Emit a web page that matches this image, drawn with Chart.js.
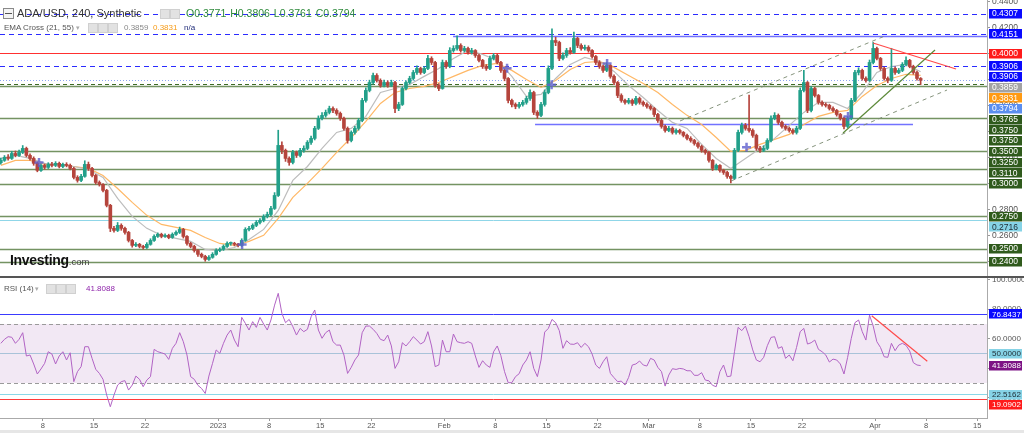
<!DOCTYPE html>
<html>
<head>
<meta charset="utf-8">
<script src="https://cdn.jsdelivr.net/npm/chart.js@4.4.1/dist/chart.umd.min.js"></script>
<style>
html,body{margin:0;padding:0;background:#fff;}
body{width:1024px;height:433px;position:relative;overflow:hidden;font-family:"Liberation Sans",Arial,sans-serif;}
canvas{position:absolute;left:0;}
#price{top:0;}
#rsi{top:277px;}
.t{position:absolute;white-space:nowrap;}
.ic{position:absolute;width:8px;height:8px;background:#e2e2e2;border:1px solid #d0d0d0;}
</style>
</head>
<body>
<canvas id="price" width="1024" height="277"></canvas>
<canvas id="rsi" width="1024" height="156"></canvas>

<div class="t" style="left:3px;top:8px;width:9px;height:9px;border:1px solid #8a8a8a;background:#f4f4f4"></div>
<div class="t" style="left:5px;top:13px;width:7px;height:1px;background:#555"></div>
<div class="t" style="left:17px;top:6px;font-size:11px;line-height:14px;color:#333">ADA/USD, 240, Synthetic</div>
<div class="ic" style="left:160px;top:9px"></div>
<div class="ic" style="left:170px;top:9px"></div>
<div class="t" style="left:186px;top:6px;font-size:10.5px;line-height:14px;color:#2f8a3c;word-spacing:1px">O0.3771 H0.3806 L0.3761 C0.3794</div>

<div class="t" style="left:4px;top:22px;font-size:8px;line-height:11px;color:#555">EMA Cross (21, 55)</div>
<div class="t" style="left:76px;top:22px;font-size:7px;line-height:11px;color:#aaa">&#9662;</div>
<div class="ic" style="left:88px;top:23px"></div>
<div class="ic" style="left:98px;top:23px"></div>
<div class="ic" style="left:108px;top:23px"></div>
<div class="t" style="left:124px;top:22px;font-size:8px;line-height:11px;color:#888">0.3859</div>
<div class="t" style="left:153px;top:22px;font-size:8px;line-height:11px;color:#f59a16">0.3831</div>
<div class="t" style="left:184px;top:22px;font-size:8px;line-height:11px;color:#1e2a78">n/a</div>

<div class="t" style="left:10px;top:251px;font-size:14px;line-height:18px;font-weight:bold;color:#111;letter-spacing:-0.3px">Investing<span style="font-size:9.5px;font-weight:normal;color:#444;letter-spacing:0">.com</span></div>

<div class="t" style="left:0;top:276px;width:1024px;height:2px;background:#555"></div>
<div class="t" style="left:4px;top:283px;font-size:8px;line-height:11px;color:#555">RSI (14)</div>
<div class="t" style="left:35px;top:283px;font-size:7px;line-height:11px;color:#aaa">&#9662;</div>
<div class="ic" style="left:46px;top:284px"></div>
<div class="ic" style="left:56px;top:284px"></div>
<div class="ic" style="left:66px;top:284px"></div>
<div class="t" style="left:86px;top:283px;font-size:8px;line-height:11px;color:#8e24aa">41.8088</div>
<div class="t" style="left:0;top:430px;width:1024px;height:3px;background:#e6e6e6"></div>

<script>
// 12h candles, days counted from 1 Dec 2022
const firstCandleDay = 1.25;
const candleStep = 0.5;

const opens = [
.3160,.3178,.3201,.3193,.3231,.3216,.3239,.3270,.3216,.3193,
.3155,.3101,.3139,.3124,.3147,.3139,.3155,.3131,.3147,.3139,
.3116,.3047,.3024,.3055,.3147,.3116,.3062,.3008,.2993,.2947,
.2832,.2655,.2639,.2678,.2655,.2624,.2562,.2524,.2532,.2516,
.2508,.2532,.2562,.2593,.2609,.2593,.2601,.2585,.2609,.2624,
.2647,.2593,.2539,.2516,.2485,.2455,.2439,.2416,.2432,.2455,
.2485,.2493,.2516,.2539,.2539,.2532,.2524,.2562,.2647,.2655,
.2678,.2701,.2716,.2747,.2762,.2808,.2908,.3293,.3255,.3193,
.3162,.3239,.3216,.3255,.3270,.3316,.3347,.3424,.3501,.3524,
.3547,.3577,.3562,.3539,.3501,.3424,.3331,.3393,.3424,.3485,
.3639,.3716,.3777,.3831,.3793,.3754,.3777,.3754,.3777,.3577,
.3608,.3731,.3777,.3808,.3854,.3885,.3854,.3885,.3962,.3931,
.3754,.3731,.3931,.3900,.4023,.4039,.4062,.4023,.4039,.4008,
.4023,.3985,.3947,.3900,.3885,.3962,.3985,.3931,.3870,.3808,
.3639,.3608,.3593,.3608,.3624,.3654,.3700,.3547,.3524,.3608,
.3700,.3885,.4100,.4085,.3962,.3985,.4023,.4008,.4116,.4062,
.4039,.4047,.4023,.3977,.3931,.3900,.3870,.3908,.3824,.3777,
.3677,.3639,.3624,.3639,.3616,.3654,.3624,.3608,.3593,.3577,
.3531,.3485,.3439,.3408,.3424,.3393,.3408,.3393,.3370,.3347,
.3331,.3308,.3285,.3255,.3239,.3178,.3116,.3139,.3101,.3085,
.3055,.3039,.3255,.3393,.3447,.3424,.3408,.3370,.3270,.3255,
.3270,.3331,.3501,.3524,.3470,.3439,.3424,.3408,.3393,.3424,
.3716,.3777,.3562,.3731,.3677,.3624,.3608,.3601,.3577,.3562,
.3531,.3501,.3439,.3501,.3639,.3854,.3870,.3808,.3793,.3931,
.4039,.3962,.3885,.3808,.3793,.3885,.3854,.3870,.3916,.3947,
.3900,.3854,.3808];
const closes = [
.3178,.3201,.3193,.3231,.3216,.3239,.3270,.3216,.3193,.3155,
.3101,.3139,.3124,.3147,.3139,.3155,.3131,.3147,.3139,.3116,
.3047,.3024,.3055,.3147,.3116,.3062,.3008,.2993,.2947,.2832,
.2655,.2639,.2678,.2655,.2624,.2562,.2524,.2532,.2516,.2508,
.2532,.2562,.2593,.2609,.2593,.2601,.2585,.2609,.2624,.2647,
.2593,.2539,.2516,.2485,.2455,.2439,.2416,.2432,.2455,.2485,
.2493,.2516,.2539,.2539,.2532,.2524,.2562,.2647,.2655,.2678,
.2701,.2716,.2747,.2762,.2808,.2908,.3293,.3255,.3193,.3162,
.3239,.3216,.3255,.3270,.3316,.3347,.3424,.3501,.3524,.3547,
.3577,.3562,.3539,.3501,.3424,.3331,.3393,.3424,.3485,.3639,
.3716,.3777,.3831,.3793,.3754,.3777,.3754,.3777,.3577,.3608,
.3731,.3777,.3808,.3854,.3885,.3854,.3885,.3962,.3931,.3754,
.3731,.3931,.3900,.4023,.4039,.4062,.4023,.4039,.4008,.4023,
.3985,.3947,.3900,.3885,.3962,.3985,.3931,.3870,.3808,.3639,
.3608,.3593,.3608,.3624,.3654,.3700,.3547,.3524,.3608,.3700,
.3885,.4100,.4085,.3962,.3985,.4023,.4008,.4116,.4062,.4039,
.4047,.4023,.3977,.3931,.3900,.3870,.3908,.3824,.3777,.3677,
.3639,.3624,.3639,.3616,.3654,.3624,.3608,.3593,.3577,.3531,
.3485,.3439,.3408,.3424,.3393,.3408,.3393,.3370,.3347,.3331,
.3308,.3285,.3255,.3239,.3178,.3116,.3139,.3101,.3085,.3055,
.3039,.3255,.3393,.3447,.3424,.3408,.3370,.3270,.3255,.3270,
.3331,.3501,.3524,.3470,.3439,.3424,.3408,.3393,.3424,.3716,
.3777,.3562,.3731,.3677,.3624,.3608,.3601,.3577,.3562,.3531,
.3501,.3439,.3501,.3639,.3854,.3870,.3808,.3793,.3931,.4039,
.3962,.3885,.3808,.3793,.3885,.3854,.3870,.3916,.3947,.3900,
.3854,.3808,.3794];
const highs = [
.3195,.3215,.3222,.3248,.3250,.3258,.3292,.3280,.3228,.3205,
.3165,.3152,.3150,.3160,.3162,.3168,.3165,.3158,.3160,.3150,
.3125,.3060,.3070,.3175,.3165,.3125,.3070,.3020,.3000,.2955,
.2840,.2670,.2700,.2690,.2665,.2632,.2570,.2545,.2540,.2525,
.2545,.2575,.2605,.2620,.2618,.2612,.2610,.2620,.2635,.2665,
.2655,.2600,.2548,.2525,.2492,.2465,.2448,.2445,.2468,.2498,
.2505,.2528,.2552,.2550,.2548,.2540,.2575,.2660,.2670,.2690,
.2715,.2730,.2760,.2780,.2825,.2930,.3410,.3320,.3265,.3205,
.3255,.3250,.3270,.3290,.3330,.3365,.3440,.3520,.3545,.3565,
.3595,.3590,.3575,.3550,.3510,.3435,.3405,.3440,.3500,.3655,
.3735,.3795,.3850,.3845,.3805,.3795,.3790,.3795,.3785,.3625,
.3745,.3790,.3825,.3870,.3905,.3895,.3900,.3985,.3975,.3940,
.3768,.3950,.3945,.4045,.4060,.4135,.4075,.4055,.4050,.4040,
.4030,.3995,.3955,.3915,.3980,.4000,.3995,.3940,.3880,.3815,
.3650,.3620,.3625,.3640,.3670,.3720,.3710,.3560,.3625,.3720,
.3905,.4190,.4125,.4095,.4005,.4040,.4045,.4165,.4125,.4075,
.4065,.4060,.4030,.3985,.3945,.3910,.3930,.3915,.3835,.3785,
.3690,.3650,.3655,.3650,.3670,.3665,.3635,.3620,.3605,.3585,
.3540,.3495,.3450,.3440,.3435,.3420,.3418,.3400,.3380,.3360,
.3340,.3318,.3295,.3265,.3248,.3185,.3150,.3145,.3110,.3095,
.3065,.3270,.3410,.3465,.3462,.3680,.3420,.3380,.3285,.3290,
.3345,.3520,.3545,.3535,.3480,.3450,.3435,.3420,.3440,.3735,
.3870,.3785,.3745,.3740,.3685,.3635,.3620,.3610,.3590,.3570,
.3540,.3510,.3515,.3655,.3870,.3890,.3880,.3820,.3950,.4085,
.4050,.3970,.3895,.3820,.4040,.3895,.3885,.3930,.3975,.3955,
.3910,.3865,.3815];
const lows = [
.3148,.3170,.3180,.3185,.3205,.3208,.3230,.3205,.3180,.3140,
.3090,.3092,.3110,.3115,.3128,.3130,.3120,.3122,.3128,.3105,
.3035,.3010,.3015,.3048,.3100,.3050,.2995,.2980,.2935,.2820,
.2630,.2625,.2630,.2640,.2610,.2550,.2510,.2515,.2505,.2495,
.2500,.2525,.2555,.2585,.2582,.2585,.2575,.2578,.2600,.2615,
.2580,.2525,.2505,.2472,.2440,.2428,.2402,.2408,.2425,.2448,
.2475,.2485,.2508,.2525,.2520,.2512,.2515,.2555,.2635,.2645,
.2668,.2690,.2705,.2735,.2750,.2800,.2900,.3230,.3170,.3140,
.3150,.3200,.3205,.3240,.3260,.3300,.3335,.3415,.3490,.3510,
.3535,.3545,.3525,.3485,.3410,.3310,.3320,.3380,.3410,.3475,
.3625,.3705,.3765,.3780,.3740,.3742,.3740,.3745,.3545,.3560,
.3600,.3720,.3765,.3795,.3840,.3840,.3845,.3875,.3915,.3740,
.3715,.3725,.3885,.3890,.4010,.4025,.4010,.4012,.3995,.3995,
.3970,.3935,.3885,.3870,.3875,.3950,.3920,.3855,.3790,.3620,
.3590,.3575,.3580,.3595,.3610,.3640,.3530,.3500,.3515,.3595,
.3690,.3875,.4060,.3945,.3950,.3970,.3995,.4000,.4045,.4025,
.4025,.4010,.3965,.3915,.3885,.3855,.3860,.3810,.3760,.3660,
.3625,.3610,.3612,.3600,.3605,.3610,.3595,.3580,.3565,.3515,
.3470,.3425,.3395,.3398,.3380,.3380,.3380,.3358,.3335,.3318,
.3295,.3272,.3240,.3225,.3165,.3100,.3105,.3088,.3070,.3040,
.3005,.3030,.3245,.3380,.3410,.3395,.3355,.3255,.3240,.3245,
.3260,.3320,.3490,.3455,.3425,.3410,.3395,.3380,.3380,.3415,
.3705,.3545,.3550,.3665,.3610,.3595,.3588,.3565,.3550,.3518,
.3488,.3420,.3430,.3490,.3630,.3835,.3795,.3780,.3785,.3920,
.3950,.3870,.3795,.3775,.3785,.3840,.3845,.3860,.3905,.3890,
.3840,.3795,.3761];

// EMA lines, one reading every 2 days
const emaStep = 2;
const ema21 = [
.3193,.3216,.3193,.3155,.3147,.3131,.3108,.3047,.2885,.2747,
.2655,.2601,.2578,.2555,.2493,.2485,.2508,.2570,.2647,.2793,
.3024,.3131,.3270,.3393,.3424,.3516,.3700,.3731,.3762,.3824,
.3885,.3962,.4023,.3993,.3947,.3824,.3670,.3685,.3808,.3916,
.3970,.3939,.3862,.3754,.3662,.3562,.3470,.3424,.3301,.3193,
.3116,.3193,.3270,.3347,.3447,.3547,.3624,.3624,.3577,.3700,
.3854,.3900,.3916,.3859];
const ema55 = [
.3139,.3178,.3178,.3147,.3147,.3131,.3116,.3062,.2962,.2855,
.2755,.2685,.2662,.2639,.2585,.2539,.2524,.2555,.2601,.2732,
.2893,.3001,.3116,.3239,.3354,.3478,.3616,.3700,.3731,.3747,
.3777,.3824,.3870,.3908,.3924,.3870,.3800,.3739,.3793,.3877,
.3931,.3939,.3893,.3831,.3770,.3700,.3608,.3524,.3454,.3354,
.3247,.3255,.3301,.3339,.3378,.3454,.3516,.3547,.3562,.3670,
.3754,.3808,.3840,.3831];

// RSI(14), one reading per candle
const rsi = [
56.9,59.6,61.4,61.0,56.9,59.6,64.1,48.3,49.0,42.9,
36.1,39.5,43.3,51.2,49.6,42.9,48.3,51.2,45.6,50.5,
30.9,37.7,41.1,54.6,54.6,46.7,39.3,36.5,32.5,21.8,
13.9,21.8,28.6,30.9,31.6,25.2,28.6,34.7,32.5,27.5,
32.0,34.3,52.8,51.2,50.5,49.6,46.0,53.5,56.9,64.1,
58.0,49.0,34.3,32.5,28.4,26.3,22.9,34.7,43.3,52.4,
50.1,56.9,62.5,65.9,59.1,54.6,74.5,70.4,65.9,71.6,
67.7,74.5,70.0,65.9,72.7,82.8,90.8,77.2,70.9,73.1,
68.2,62.5,67.0,64.8,66.4,74.9,79.5,65.9,60.3,64.1,
65.9,58.0,55.7,55.7,49.0,36.5,40.6,45.6,49.0,64.1,
68.6,68.6,66.4,63.6,59.6,58.7,62.5,55.1,39.9,44.4,
57.3,55.1,58.0,61.4,59.1,56.4,58.0,64.8,55.1,41.1,
42.2,59.1,51.2,51.2,63.2,58.0,57.3,56.9,58.0,56.9,
48.3,40.6,45.1,42.2,40.6,51.2,55.1,
48.5,37.7,30.2,30.2,34.3,36.3,42.2,45.6,51.2,39.9,
34.3,45.6,64.5,67.0,73.1,70.9,65.5,53.5,58.7,56.4,
56.2,57.3,54.1,56.9,54.6,49.6,42.2,39.9,44.4,47.8,
36.5,33.6,30.9,31.3,28.6,33.8,42.2,42.9,44.9,42.2,
41.5,46.7,45.6,40.6,37.7,27.9,35.4,39.7,39.2,39.9,
39.5,38.3,38.3,35.2,35.2,37.0,32.0,31.5,28.4,27.5,
37.7,42.2,34.3,34.7,51.2,67.7,65.5,68.6,61.4,52.4,
45.6,44.4,47.4,55.3,60.9,61.4,53.5,54.6,46.7,49.0,
45.1,54.1,64.8,67.0,56.4,57.3,59.1,52.8,51.2,49.0,
44.2,46.2,45.6,42.9,36.1,47.4,60.3,70.9,72.7,64.8,
59.1,76.0,68.6,58.0,54.1,47.8,47.4,56.9,51.9,55.7,
56.9,55.5,51.7,43.8,42.2,41.8];

// EMA cross markers
const crossDays = [6.48, 34.3, 70.6, 76.7, 84.3, 103.4, 117.3];
const crossPrices = [0.3162, 0.2531, 0.3887, 0.3759, 0.3923, 0.3279, 0.3515];

// drawn trend lines [day, value] pairs
const redTrend = [[120.73, 0.4081], [132.1, 0.3881]];
const channelTop = [[94.29, 0.3481], [122.37, 0.4135]];
const channelBottom = [[101.27, 0.3019], [130.86, 0.3719]];
const greenTrend = [[116.62, 0.3388], [129.22, 0.4027]];
const rsiTrend = [[120.55, 75.6], [128.16, 44.7]];

// horizontal levels
const blueDashed = [0.4307, 0.4151, 0.3906];
const greenLevels = [0.3750, 0.3500, 0.3250, 0.3110, 0.3000, 0.2750, 0.2500, 0.2400];
const redLevel = 0.4000;
const cyanLevel = 0.2716;
const lastPrice = 0.3794;
const dashedGreen = 0.3765;
const blueSegments = [[63.2, 136.4, 0.4131], [74.43, 126.2, 0.3455]];

// right axis price tags
const tagValues = [0.4307, 0.4151, 0.4000, 0.3906, 0.3906, 0.3859, 0.3831, 0.3794, 0.3765, 0.3750, 0.3750,
                   0.3500, 0.3250, 0.3110, 0.3000, 0.2750, 0.2716, 0.2500, 0.2400];
const tagColors = ['#0a0aff','#0a0aff','#ff1a1a','#0a0aff','#0a0aff','#a3a3a3','#ff9a12','#5a8ef0','#2f5a1c','#2f5a1c','#2f5a1c',
                   '#2f5a1c','#2f5a1c','#2f5a1c','#2f5a1c','#2f5a1c','#86d3e6','#2f5a1c','#2f5a1c'];
const rsiTagValues = [76.8437, 50.0000, 41.8088, 22.5162, 19.0902];
const rsiTagColors = ['#0a0aff', '#86d3e6', '#7d1385', '#86d3e6', '#ff1a1a'];

const tickDays = [7, 14, 21, 31, 38, 45, 52, 62, 69, 76, 83, 90, 97, 104, 111, 121, 128, 135];
const tickLabels = ['8','15','22','2023','8','15','22','Feb','8','15','22','Mar','8','15','22','Apr','8','15'];

const xMin = 1.137, xMax = 136.34;
const UP = '#22a08a', DOWN = '#b5443c';

Chart.defaults.font.family = '"Liberation Sans", Arial, sans-serif';
Chart.defaults.animation = false;

const candleDay = i => firstCandleDay + i * candleStep;
const up = i => closes[i] >= opens[i];
const pair = arr => arr.map(p => ({x: p[0], y: p[1]}));

const levelsPlugin = {
  id: 'levels',
  beforeDatasetsDraw(chart, args, opts) {
    const {ctx, chartArea: a, scales: {x, y}} = chart;
    ctx.save();
    if (opts.band) {
      const t = y.getPixelForValue(opts.band[1]), b = y.getPixelForValue(opts.band[0]);
      ctx.fillStyle = opts.band[2];
      ctx.fillRect(a.left, t, a.width, b - t);
    }
    ctx.beginPath(); ctx.rect(a.left, a.top, a.width, a.height); ctx.clip();
    opts.items.forEach(l => {
      const py = Math.round(y.getPixelForValue(l.v)) + 0.5;
      const x0 = l.from != null ? x.getPixelForValue(l.from) : a.left;
      const x1 = l.to != null ? x.getPixelForValue(l.to) : a.right;
      ctx.strokeStyle = l.c; ctx.lineWidth = l.w || 1; ctx.setLineDash(l.d || []);
      ctx.beginPath(); ctx.moveTo(x0, py); ctx.lineTo(x1, py); ctx.stroke();
    });
    ctx.restore();
  }
};

const tagsPlugin = {
  id: 'tags',
  afterDraw(chart, args, opts) {
    const {ctx} = chart, y = chart.scales.y;
    const left = chart.chartArea.right + 2;
    let prev = -1e9;
    ctx.save();
    ctx.font = opts.font; ctx.textBaseline = 'middle'; ctx.textAlign = 'left';
    opts.values.forEach((v, i) => {
      const py = Math.max(y.getPixelForValue(v), prev + 10.7);
      prev = py;
      const bg = opts.colors[i];
      ctx.fillStyle = bg;
      ctx.fillRect(left, Math.round(py - 4.5), 33, 9.5);
      ctx.fillStyle = (bg === '#86d3e6') ? '#1d2b33' : '#fff';
      ctx.fillText(v.toFixed(4), left + 3, py + 0.5);
    });
    ctx.restore();
  }
};

function fitY(scale) { scale.width = 37; scale.paddingTop = 0; scale.paddingBottom = 0; }

const levelItems = [];
blueDashed.forEach(v => levelItems.push({v, c: '#2b2bff', d: [5, 4]}));
levelItems.push({v: redLevel, c: '#ff3030'});
levelItems.push({v: lastPrice, c: '#8ea6f2', d: [1, 2]});
levelItems.push({v: dashedGreen, c: '#3e6b25', d: [4, 3]});
greenLevels.forEach(v => levelItems.push({v, c: 'rgba(92,128,70,0.85)', w: 1.5}));
levelItems.push({v: cyanLevel, c: '#8fd6e8'});
blueSegments.forEach(s => levelItems.push({from: s[0], to: s[1], v: s[2], c: '#7272ff', w: 1.5}));

new Chart(document.getElementById('price'), {
  type: 'bar',
  data: {
    datasets: [
      {type: 'line', data: ema55.map((v, k) => ({x: firstCandleDay + k * emaStep, y: v})), borderColor: '#ffb866', borderWidth: 1.2, pointRadius: 0, order: 5},
      {type: 'line', data: ema21.map((v, k) => ({x: firstCandleDay + k * emaStep, y: v})), borderColor: '#bdbdbd', borderWidth: 1.2, pointRadius: 0, order: 4},
      {data: highs.map((h, i) => ({x: candleDay(i), y: [lows[i], h]})), barThickness: 1, grouped: false, minBarLength: 1,
       backgroundColor: c => up(c.dataIndex) ? UP : DOWN, order: 3},
      {data: closes.map((c, i) => ({x: candleDay(i), y: [opens[i], c]})), barThickness: 3, grouped: false, minBarLength: 1,
       backgroundColor: c => up(c.dataIndex) ? UP : DOWN, order: 2},
      {type: 'line', data: pair(channelTop), borderColor: 'rgba(120,135,110,0.9)', borderDash: [4, 4], borderWidth: 1, pointRadius: 0, order: 1},
      {type: 'line', data: pair(channelBottom), borderColor: 'rgba(120,135,110,0.9)', borderDash: [4, 4], borderWidth: 1, pointRadius: 0, order: 1},
      {type: 'line', data: pair(greenTrend), borderColor: '#5d8a3a', borderWidth: 1.2, pointRadius: 0, order: 1},
      {type: 'line', data: pair(redTrend), borderColor: '#ff4a4a', borderWidth: 1.2, pointRadius: 0, order: 1},
      {type: 'scatter', data: crossDays.map((d, i) => ({x: d, y: crossPrices[i]})), pointStyle: 'cross', pointRadius: 4.5,
       borderWidth: 2.5, borderColor: 'rgba(95,95,205,0.8)', order: 0}
    ]
  },
  options: {
    responsive: false,
    layout: {padding: 0, autoPadding: false},
    plugins: {legend: {display: false}, tooltip: {enabled: false},
      levels: {items: levelItems},
      tags: {values: tagValues, colors: tagColors, font: '8.5px "Liberation Sans", Arial'}},
    scales: {
      x: {type: 'linear', min: xMin, max: xMax, offset: false, display: false},
      y: {position: 'right', min: 0.22808, max: 0.44115,
        afterBuildTicks: s => { s.ticks = [0.44, 0.42, 0.40, 0.38, 0.36, 0.34, 0.32, 0.30, 0.28, 0.26, 0.24].map(v => ({value: v})); },
        afterFit: fitY,
        ticks: {callback: v => v.toFixed(4), color: '#555', font: {size: 8.5}, padding: 2},
        grid: {drawOnChartArea: false, drawTicks: true, tickLength: 3, color: '#999'},
        border: {display: true, color: '#aaa'}}
    }
  },
  plugins: [levelsPlugin, tagsPlugin]
});

new Chart(document.getElementById('rsi'), {
  type: 'line',
  data: {
    datasets: [
      {data: rsi.map((v, i) => ({x: candleDay(i), y: v})), borderColor: '#b163c4', borderWidth: 1, pointRadius: 0},
      {data: pair(rsiTrend), borderColor: '#ff4a4a', borderWidth: 1.2, pointRadius: 0}
    ]
  },
  options: {
    responsive: false,
    layout: {padding: 0, autoPadding: false},
    plugins: {legend: {display: false}, tooltip: {enabled: false},
      levels: {band: [30, 70, 'rgba(190,140,200,0.2)'], items: [
        {v: 76.8437, c: '#3a3aff'}, {v: 70, c: '#9a9a9a', d: [4, 3]}, {v: 50, c: '#a9c3d9'},
        {v: 30, c: '#9a9a9a', d: [4, 3]}, {v: 22.5162, c: '#8ad8e8'}, {v: 19.0902, c: '#ff3b3b'}]},
      tags: {values: rsiTagValues, colors: rsiTagColors, font: '8px "Liberation Sans", Arial'}},
    scales: {
      x: {type: 'linear', min: xMin, max: xMax, offset: false,
        afterBuildTicks: s => { s.ticks = tickDays.map(v => ({value: v})); },
        afterFit: s => { s.height = 15; s.paddingLeft = 0; s.paddingRight = 0; },
        ticks: {callback: (v, i) => tickLabels[i], autoSkip: false, maxRotation: 0, color: '#555', font: {size: 7.5}, padding: 0},
        grid: {drawOnChartArea: false, drawTicks: true, tickLength: 3, color: '#999'},
        border: {display: true, color: '#aaa'}},
      y: {position: 'right', min: 6.27, max: 101.86,
        afterBuildTicks: s => { s.ticks = [100, 80, 60, 40, 20].map(v => ({value: v})); },
        afterFit: fitY,
        ticks: {callback: v => v.toFixed(4), color: '#555', font: {size: 8}, padding: 2},
        grid: {drawOnChartArea: false, drawTicks: true, tickLength: 3, color: '#999'},
        border: {display: true, color: '#aaa'}}
    }
  },
  plugins: [levelsPlugin, tagsPlugin]
});
</script>
</body>
</html>
